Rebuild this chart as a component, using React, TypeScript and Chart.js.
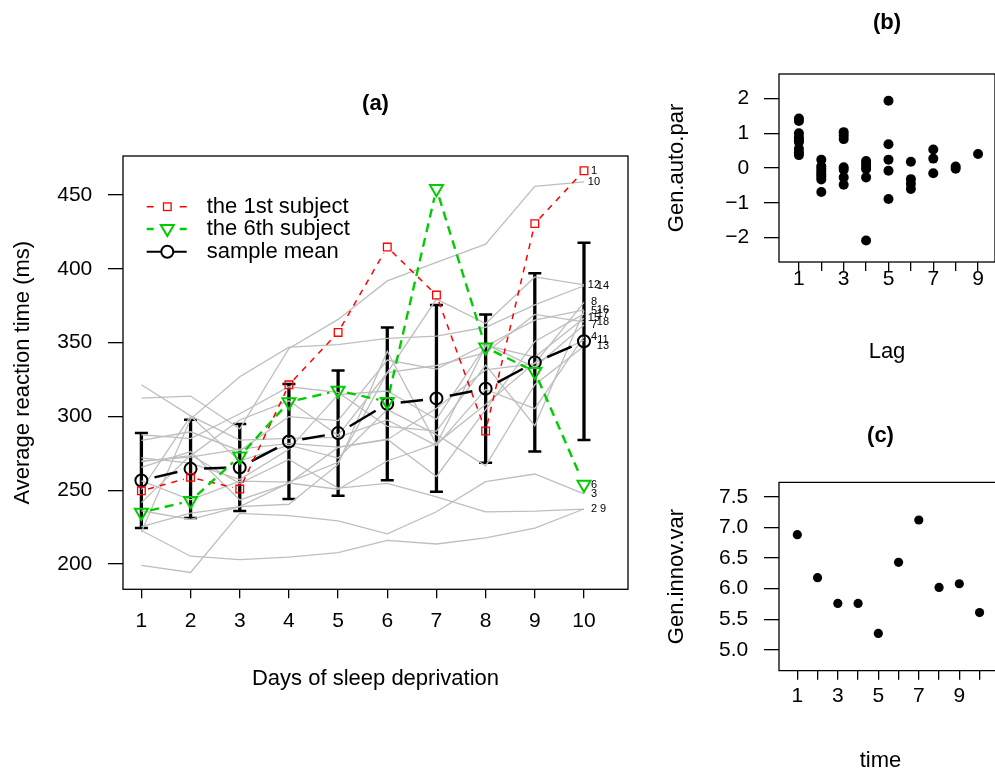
import React, { useEffect, useRef } from 'react';
import { Chart, registerables } from 'chart.js';

Chart.register(...registerables);

const FONT = '"Liberation Sans", Arial, Helvetica, sans-serif';

// ---------- Panel (a) data ----------
const days = [1, 2, 3, 4, 5, 6, 7, 8, 9, 10];
const s01 = [249.6, 258.7, 250.8, 321.4, 356.9, 414.7, 382.2, 290.1, 430.6, 466.4];
const s02 = [222.7, 205.3, 203.0, 204.7, 207.7, 216.0, 213.6, 217.7, 224.3, 237.3];
const s03 = [199.1, 194.3, 234.3, 232.8, 229.3, 220.5, 235.4, 255.8, 261.0, 247.5];
const s04 = [321.5, 300.4, 283.9, 285.1, 285.8, 297.6, 280.2, 318.3, 305.3, 354.0];
const s05 = [287.6, 285.0, 301.8, 320.1, 316.3, 293.3, 290.1, 334.8, 293.7, 371.6];
const s06 = [234.9, 242.8, 273.0, 309.8, 317.5, 310.0, 454.2, 346.8, 330.3, 253.9];
const s07 = [283.8, 289.6, 276.8, 299.8, 297.2, 338.2, 332.0, 348.8, 333.4, 362.0];
const s08 = [265.5, 276.2, 243.4, 254.7, 279.0, 284.2, 305.5, 331.5, 335.7, 377.3];
const s09 = [241.6, 273.9, 254.5, 270.8, 251.5, 254.6, 245.5, 235.3, 235.8, 237.2];
const s10 = [312.4, 313.8, 291.6, 346.1, 365.7, 391.8, 404.3, 416.7, 455.9, 458.9];
const s11 = [236.1, 230.3, 238.9, 254.9, 250.7, 269.8, 281.6, 308.1, 336.3, 351.6];
const s12 = [256.3, 243.5, 256.2, 255.5, 268.9, 329.7, 379.4, 362.9, 394.5, 389.1];
const s13 = [250.5, 300.1, 269.9, 280.6, 271.8, 304.6, 287.7, 266.6, 321.5, 347.6];
const s14 = [221.7, 298.2, 326.9, 346.9, 348.7, 352.8, 354.4, 360.4, 375.6, 388.5];
const s15 = [271.9, 268.4, 257.2, 277.7, 314.8, 317.2, 298.1, 348.1, 340.3, 366.5];
const s16 = [225.3, 234.5, 238.9, 240.5, 267.5, 344.2, 281.1, 347.6, 365.2, 372.2];
const s17 = [269.9, 272.4, 277.9, 281.8, 279.2, 284.5, 259.3, 304.6, 350.8, 369.5];
const s18 = [269.4, 273.5, 297.6, 310.6, 287.2, 329.6, 334.5, 343.2, 369.1, 364.1];
const subjects = [s01, s02, s03, s04, s05, s06, s07, s08, s09, s10, s11, s12, s13, s14, s15, s16, s17, s18];
const subjectLabels = ['1', '2', '3', '4', '5', '6', '7', '8', '9', '10', '11', '12', '13', '14', '15', '16', '17', '18'];
const meanRT = [256.6, 264.5, 265.4, 283.0, 288.7, 308.5, 312.2, 318.8, 336.6, 350.9];
const sdRT = [32.1, 33.3, 29.5, 39.0, 42.4, 51.8, 63.2, 50.2, 60.3, 66.8];
const yTicksA = [200, 250, 300, 350, 400, 450];
const legendLabels = ['the 1st subject', 'the 6th subject', 'sample mean'];

// ---------- Panel (b) data ----------
const lags = [1, 2, 3, 4, 5, 6, 7, 8, 9];
const lag1 = [1.42, 1.35, 1.0, 0.88, 0.8, 0.75, 0.55, 0.45, 0.37];
const lag2 = [0.24, 0.05, -0.03, -0.1, -0.18, -0.25, -0.33, -0.69];
const lag3 = [1.03, 0.93, 0.83, 0.02, -0.05, -0.27, -0.48];
const lag4 = [0.2, 0.12, 0.03, -0.03, -0.27, -2.08];
const lag5 = [1.93, 0.68, 0.24, -0.08, -0.89];
const lag6 = [0.18, -0.32, -0.45, -0.6];
const lag7 = [0.53, 0.27, -0.15];
const lag8 = [0.04, -0.02];
const lag9 = [0.4];
const autoPar = [lag1, lag2, lag3, lag4, lag5, lag6, lag7, lag8, lag9];
const yTicksB = [-2, -1, 0, 1, 2];
const xTicksB = [1, 2, 3, 4, 5, 6, 7, 8, 9, 10];

// ---------- Panel (c) data ----------
const times = [1, 2, 3, 4, 5, 6, 7, 8, 9, 10];
const innovVar = [6.88, 6.18, 5.76, 5.76, 5.27, 6.43, 7.12, 6.02, 6.08, 5.61];
const yTicksC = [5.0, 5.5, 6.0, 6.5, 7.0, 7.5];

// ---------- styles ----------
const labelShift = [0, 0, 0, 0, 0, 0, 0, 0, 9, 0, 9, 0, 9, 9, 0, 9, 9, 9];
const GRAY = '#bebebe';
const RED = '#ff0000';
const GREEN = '#00cd00';

Chart.defaults.font.family = FONT;
Chart.defaults.color = '#000';

function gapDash(p0: any, p1: any, gap: number, pattern?: number[]) {
  const L = Math.hypot(p1.x - p0.x, p1.y - p0.y);
  let rem = L - 2 * gap;
  if (rem <= 0) return [0, L + 1000];
  const arr = [0, gap];
  if (!pattern) {
    arr.push(rem, gap + 1000);
    return arr;
  }
  let i = 0;
  while (rem > 0) {
    const len = Math.min(pattern[i % 2], rem);
    arr.push(len);
    rem -= len;
    i++;
  }
  if (arr.length % 2 === 1) arr.push(gap + 1000);
  else arr[arr.length - 1] += gap + 1000;
  return arr;
}

function boxPlugin(extendTo?: number) {
  return {
    id: 'box',
    afterDraw(chart: any) {
      const { ctx, chartArea } = chart;
      ctx.save();
      ctx.strokeStyle = '#000';
      ctx.lineWidth = 1.3;
      if (extendTo === undefined) {
        ctx.strokeRect(chartArea.left, chartArea.top, chartArea.right - chartArea.left, chartArea.bottom - chartArea.top);
      } else {
        ctx.beginPath();
        ctx.moveTo(extendTo, chartArea.top);
        ctx.lineTo(chartArea.left, chartArea.top);
        ctx.lineTo(chartArea.left, chartArea.bottom);
        ctx.lineTo(extendTo, chartArea.bottom);
        ctx.stroke();
      }
      ctx.restore();
    },
  };
}

function panelTitlePlugin(text: string, above: number) {
  return {
    id: 'panelTitle',
    afterDraw(chart: any) {
      const { ctx, chartArea } = chart;
      ctx.save();
      ctx.fillStyle = '#000';
      ctx.font = `bold 22px ${FONT}`;
      ctx.textAlign = 'center';
      ctx.textBaseline = 'middle';
      ctx.fillText(text, (chartArea.left + chartArea.right) / 2, chartArea.top - above);
      ctx.restore();
    },
  };
}

const errorBarPlugin = {
  id: 'errorBars',
  beforeDatasetsDraw(chart: any) {
    const { ctx, scales } = chart;
    const x = scales.x;
    const y = scales.y;
    ctx.save();
    ctx.strokeStyle = '#000';
    days.forEach((d, i) => {
      const px = x.getPixelForValue(d);
      const top = y.getPixelForValue(meanRT[i] + sdRT[i]);
      const bot = y.getPixelForValue(meanRT[i] - sdRT[i]);
      ctx.lineWidth = 3.3;
      ctx.beginPath();
      ctx.moveTo(px, top);
      ctx.lineTo(px, bot);
      ctx.stroke();
      ctx.lineWidth = 2.5;
      ctx.beginPath();
      ctx.moveTo(px - 6.5, top);
      ctx.lineTo(px + 6.5, top);
      ctx.moveTo(px - 6.5, bot);
      ctx.lineTo(px + 6.5, bot);
      ctx.stroke();
    });
    ctx.restore();
  },
};

const subjectLabelPlugin = {
  id: 'subjectLabels',
  afterDatasetsDraw(chart: any) {
    const { ctx, scales } = chart;
    const x = scales.x;
    const y = scales.y;
    ctx.save();
    ctx.fillStyle = '#000';
    ctx.font = `11px ${FONT}`;
    ctx.textAlign = 'center';
    ctx.textBaseline = 'middle';
    subjects.forEach((s, i) => {
      const px = x.getPixelForValue(days[days.length - 1]) + 10 + labelShift[i];
      const py = y.getPixelForValue(s[s.length - 1]);
      ctx.fillText(subjectLabels[i], px, py);
    });
    ctx.restore();
  },
};

const legendPlugin = {
  id: 'customLegend',
  afterDraw(chart: any) {
    const { ctx, chartArea } = chart;
    const x0 = chartArea.left + 23.7;
    const x1 = chartArea.left + 63.7;
    const xm = chartArea.left + 44.3;
    const xt = chartArea.left + 83.7;
    const rows = [chartArea.top + 50.7, chartArea.top + 73, chartArea.top + 95.7];
    ctx.save();
    // red
    ctx.strokeStyle = RED;
    ctx.lineWidth = 1.5;
    ctx.beginPath();
    ctx.moveTo(x0, rows[0]); ctx.lineTo(x0 + 7, rows[0]);
    ctx.moveTo(x1 - 7, rows[0]); ctx.lineTo(x1, rows[0]);
    ctx.stroke();
    ctx.lineWidth = 1.3;
    ctx.strokeRect(xm - 3.8, rows[0] - 3.8, 7.6, 7.6);
    // green
    ctx.strokeStyle = GREEN;
    ctx.lineWidth = 2.3;
    ctx.beginPath();
    ctx.moveTo(x0, rows[1]); ctx.lineTo(x0 + 7, rows[1]);
    ctx.moveTo(x1 - 7, rows[1]); ctx.lineTo(x1, rows[1]);
    ctx.stroke();
    ctx.lineWidth = 2;
    ctx.beginPath();
    ctx.moveTo(xm - 6.5, rows[1] - 4);
    ctx.lineTo(xm + 6.5, rows[1] - 4);
    ctx.lineTo(xm, rows[1] + 7);
    ctx.closePath();
    ctx.stroke();
    // black
    ctx.strokeStyle = '#000';
    ctx.lineWidth = 2;
    ctx.beginPath();
    ctx.moveTo(x0, rows[2]); ctx.lineTo(xm - 6, rows[2]);
    ctx.moveTo(xm + 6, rows[2]); ctx.lineTo(x1, rows[2]);
    ctx.stroke();
    ctx.beginPath();
    ctx.arc(xm, rows[2], 6, 0, Math.PI * 2);
    ctx.stroke();
    // text
    ctx.fillStyle = '#000';
    ctx.font = `22px ${FONT}`;
    ctx.textAlign = 'left';
    ctx.textBaseline = 'middle';
    legendLabels.forEach((t, i) => ctx.fillText(t, xt, rows[i]));
    ctx.restore();
  },
};

const tickGrid = (len: number) => ({
  display: true,
  drawOnChartArea: false,
  drawTicks: true,
  tickLength: len,
  color: '#000',
  lineWidth: 1.3,
});

const noPlugins = { legend: { display: false }, tooltip: { enabled: false }, title: { display: false } };

function configA(): any {
  const toXY = (arr: number[]) => arr.map((v, i) => ({ x: days[i], y: v }));
  const grayDatasets = subjects
    .map((s, i) => ({ s, i }))
    .filter(({ i }) => i !== 0 && i !== 5)
    .map(({ s }) => ({
      data: toXY(s),
      borderColor: GRAY,
      borderWidth: 1.3,
      pointRadius: 0,
      order: 10,
    }));
  return {
    type: 'line',
    data: {
      datasets: [
        ...grayDatasets,
        {
          data: toXY(meanRT),
          borderColor: '#000',
          borderWidth: 2.5,
          pointStyle: 'circle',
          pointRadius: 6,
          pointBorderWidth: 2,
          pointBorderColor: '#000',
          pointBackgroundColor: 'rgba(0,0,0,0)',
          segment: { borderDash: (c: any) => gapDash(c.p0, c.p1, 13.5) },
          order: 2,
        },
        {
          data: toXY(s01),
          borderColor: RED,
          borderWidth: 1.5,
          pointStyle: 'rect',
          pointRadius: 5.4,
          pointBorderWidth: 1.3,
          pointBorderColor: RED,
          pointBackgroundColor: 'rgba(0,0,0,0)',
          segment: { borderDash: (c: any) => gapDash(c.p0, c.p1, 7, [6, 6]) },
          order: 1,
        },
        {
          data: toXY(s06),
          borderColor: GREEN,
          borderWidth: 2.4,
          pointStyle: 'triangle',
          pointRotation: 180,
          pointRadius: 7.5,
          pointBorderWidth: 2,
          pointBorderColor: GREEN,
          pointBackgroundColor: 'rgba(0,0,0,0)',
          segment: { borderDash: (c: any) => gapDash(c.p0, c.p1, 9, [9, 6]) },
          order: 0,
        },
      ],
    },
    options: {
      animation: false,
      responsive: false,
      events: [],
      layout: { padding: { left: 0, right: 12, top: 156, bottom: 0 } },
      plugins: noPlugins,
      scales: {
        x: {
          type: 'linear',
          min: 0.626,
          max: 10.895,
          afterBuildTicks: (s: any) => { s.ticks = days.map((v) => ({ value: v })); },
          afterFit: (s: any) => { s.height = 184.7; },
          grid: tickGrid(9),
          border: { display: false },
          ticks: { font: { size: 21 }, color: '#000', padding: 10.6, autoSkip: false, maxRotation: 0, callback: (v: any) => String(v) },
          title: { display: true, text: 'Days of sleep deprivation', color: '#000', font: { size: 22 }, padding: { top: 0, bottom: 81.8 } },
        },
        y: {
          type: 'linear',
          min: 182.9,
          max: 476.4,
          afterBuildTicks: (s: any) => { s.ticks = yTicksA.map((v) => ({ value: v })); },
          afterFit: (s: any) => { s.width = 123; },
          grid: tickGrid(15),
          border: { display: false },
          ticks: { font: { size: 21 }, color: '#000', padding: 15.7, autoSkip: false, callback: (v: any) => String(v) },
          title: { display: true, text: 'Average reaction time (ms)', color: '#000', font: { size: 22 }, padding: { top: 9.3, bottom: 0 } },
        },
      },
    },
    plugins: [errorBarPlugin, subjectLabelPlugin, legendPlugin, boxPlugin(), panelTitlePlugin('(a)', 52)],
  };
}

function configB(): any {
  const pts: { x: number; y: number }[] = [];
  autoPar.forEach((vals, i) => vals.forEach((v) => pts.push({ x: lags[i], y: v })));
  return {
    type: 'scatter',
    data: {
      datasets: [{ data: pts, pointRadius: 5, pointBackgroundColor: '#000', pointBorderWidth: 0, backgroundColor: '#000', clip: false }],
    },
    options: {
      animation: false,
      responsive: false,
      events: [],
      layout: { padding: { left: 0, right: 4, top: 74, bottom: 0 } },
      plugins: noPlugins,
      scales: {
        x: {
          type: 'linear',
          min: 0.111,
          max: 9.756,
          afterBuildTicks: (s: any) => { s.ticks = xTicksB.filter((v) => v <= 9.756).map((v) => ({ value: v })); },
          afterFit: (s: any) => { s.height = 128; },
          grid: tickGrid(9),
          border: { display: false },
          ticks: { font: { size: 21 }, color: '#000', padding: -4.3, autoSkip: false, maxRotation: 0, callback: (v: any) => (v % 2 === 1 ? String(v) : '') },
          title: { display: true, text: 'Lag', color: '#000', font: { size: 22 }, padding: { top: 0, bottom: 24.8 } },
        },
        y: {
          type: 'linear',
          min: -2.7,
          max: 2.7,
          afterBuildTicks: (s: any) => { s.ticks = yTicksB.map((v) => ({ value: v })); },
          afterFit: (s: any) => { s.width = 119; },
          grid: tickGrid(15),
          border: { display: false },
          ticks: { font: { size: 21 }, color: '#000', padding: 14.7, autoSkip: false, callback: (v: any) => (v < 0 ? '\u2212' + Math.abs(v) : String(v)) },
          title: { display: true, text: 'Gen.auto.par', color: '#000', font: { size: 22 }, padding: { top: 3.8, bottom: 0 } },
        },
      },
    },
    plugins: [boxPlugin(), panelTitlePlugin('(b)', 51)],
  };
}

function configC(): any {
  const pts = innovVar.map((v, i) => ({ x: times[i], y: v }));
  return {
    type: 'scatter',
    data: {
      datasets: [{ data: pts, pointRadius: 4.6, pointBackgroundColor: '#000', pointBorderWidth: 0, backgroundColor: '#000', clip: false }],
    },
    options: {
      animation: false,
      responsive: false,
      events: [],
      layout: { padding: { left: 0, right: 18, top: 82.3, bottom: 0 } },
      plugins: noPlugins,
      scales: {
        x: {
          type: 'linear',
          min: 0.096,
          max: 10.12,
          afterBuildTicks: (s: any) => { s.ticks = times.map((v) => ({ value: v })); },
          afterFit: (s: any) => { s.height = 103.3; },
          grid: tickGrid(9),
          border: { display: false },
          ticks: { font: { size: 21 }, color: '#000', padding: 3.7, autoSkip: false, maxRotation: 0, callback: (v: any) => (v % 2 === 1 ? String(v) : '') },
          title: { display: true, text: 'time', color: '#000', font: { size: 22 }, padding: { top: 0, bottom: 0 } },
        },
        y: {
          type: 'linear',
          min: 4.662,
          max: 7.735,
          afterBuildTicks: (s: any) => { s.ticks = yTicksC.map((v) => ({ value: v })); },
          afterFit: (s: any) => { s.width = 119; },
          grid: tickGrid(15),
          border: { display: false },
          ticks: { font: { size: 21 }, color: '#000', padding: 15.7, autoSkip: false, callback: (v: any) => Number(v).toFixed(1) },
          title: { display: true, text: 'Gen.innov.var', color: '#000', font: { size: 22 }, padding: { top: 3.8, bottom: 0 } },
        },
      },
    },
    plugins: [boxPlugin(336), panelTitlePlugin('(c)', 46.8)],
  };
}

export default function App() {
  const refA = useRef<HTMLCanvasElement>(null);
  const refB = useRef<HTMLCanvasElement>(null);
  const refC = useRef<HTMLCanvasElement>(null);

  useEffect(() => {
    const ca = new Chart(refA.current as HTMLCanvasElement, configA());
    const cb = new Chart(refB.current as HTMLCanvasElement, configB());
    const cc = new Chart(refC.current as HTMLCanvasElement, configC());
    return () => {
      ca.destroy();
      cb.destroy();
      cc.destroy();
    };
  }, []);

  return (
    <div style={{ position: 'absolute', left: 0, top: 0, width: 995, height: 774, overflow: 'hidden', background: '#fff' }}>
      <canvas ref={refA} width={640} height={774} style={{ position: 'absolute', left: 0, top: 0, width: 640, height: 774 }} />
      <canvas ref={refB} width={340} height={390} style={{ position: 'absolute', left: 660, top: 0, width: 340, height: 390 }} />
      <canvas ref={refC} width={340} height={374} style={{ position: 'absolute', left: 660, top: 400, width: 340, height: 374 }} />
    </div>
  );
}
